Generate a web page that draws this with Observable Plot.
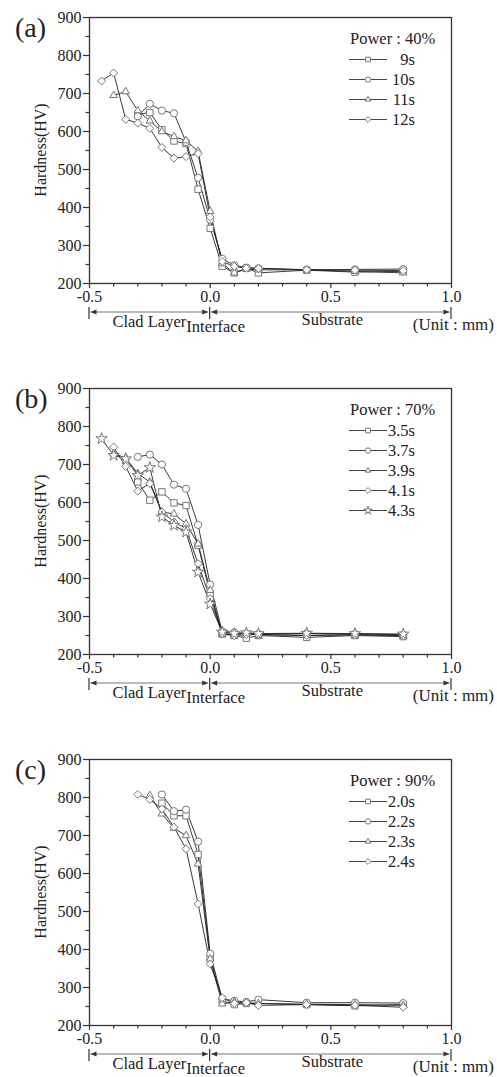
<!DOCTYPE html>
<html>
<head>
<meta charset="utf-8">
<script src="https://cdn.jsdelivr.net/npm/d3@7"></script>
<script src="https://cdn.jsdelivr.net/npm/@observablehq/plot@0.6"></script>
<style>
  html, body { margin: 0; padding: 0; background: #fff; }
  svg { display: block; }
  svg text { font-family: "Liberation Serif", "Times New Roman", serif; }
</style>
</head>
<body>
<div id="chart"></div>
<script>
// ---------- DATA ----------
const depth = [-0.45, -0.40, -0.35, -0.30, -0.25, -0.20, -0.15, -0.10, -0.05, 0, 0.05, 0.10, 0.15, 0.20, 0.40, 0.60, 0.80];

// (a) Power : 40%
const a_names = ["9s", "10s", "11s", "12s"];
const a_9s  = [null, null, null, 645, 650, 605, 575, 568, 448, 345, 245, 228, 240, 228, 235, 230, 232];
const a_10s = [null, null, null, 640, 673, 655, 648, 572, 478, 368, 265, 248, 242, 240, 236, 237, 238];
const a_11s = [null, 695, 705, 655, 628, 600, 587, 576, 548, 390, 252, 228, 238, 236, 236, 232, 228];
const a_12s = [733, 754, 632, 622, 608, 558, 530, 534, 542, 375, 258, 245, 240, 240, 236, 235, 234];

// (b) Power : 70%
const b_names = ["3.5s", "3.7s", "3.9s", "4.1s", "4.3s"];
const b_35s = [null, null, null, 654, 606, 628, 599, 592, 487, 360, 254, 250, 243, 250, 245, 250, 247];
const b_37s = [null, null, null, 720, 726, 700, 647, 636, 541, 384, 261, 258, 255, 254, 255, 254, 252];
const b_39s = [null, 728, 718, 676, 654, 575, 570, 544, 491, 369, 256, 252, 255, 252, 250, 252, 250];
const b_41s = [null, 746, 695, 630, 650, 575, 549, 531, 439, 347, 255, 250, 252, 253, 250, 252, 250];
const b_43s = [768, 724, 715, 671, 692, 562, 540, 522, 417, 333, 259, 255, 257, 255, 256, 255, 254];

// (c) Power : 90%
const c_names = ["2.0s", "2.2s", "2.3s", "2.4s"];
const c_20s = [null, null, null, null, null, 785, 752, 752, 650, 380, 265, 255, 258, 258, 255, 252, 255];
const c_22s = [null, null, null, null, null, 808, 764, 768, 684, 389, 270, 265, 262, 268, 260, 260, 259];
const c_23s = [null, null, null, null, 805, 757, 719, 700, 625, 375, 257, 262, 260, 258, 256, 255, 253];
const c_24s = [null, null, null, 808, 795, 770, 722, 665, 520, 362, 273, 258, 260, 253, 255, 253, 248];

const symbolNames = ["square", "circle", "triangle2", "diamond2", "star"];
const d3Symbols = {square: d3.symbolSquare, circle: d3.symbolCircle, triangle2: d3.symbolTriangle2, diamond2: d3.symbolDiamond2, star: d3.symbolStar};

const yMajor = [200, 300, 400, 500, 600, 700, 800, 900];
const yMinor = [250, 350, 450, 550, 650, 750, 850];
const xMajor = [-0.5, 0, 0.5, 1.0];
const xMinor = [-0.4, -0.3, -0.2, -0.1, 0.1, 0.2, 0.3, 0.4, 0.6, 0.7, 0.8, 0.9];

// ---------- RENDER ----------
const FONT = '"Liberation Serif", "Times New Roman", serif';
const INK = "#222";

function panel(tag, power, names, series, height, marginBottom) {
  const marginTop = 17, marginLeft = 89, marginRight = 46;
  const rows = [];
  series.forEach((vals, i) => vals.forEach((v, j) => { if (v != null) rows.push({s: names[i], i, x: depth[j], y: v}); }));
  const marks = [
    Plot.frame({stroke: "#333", strokeWidth: 1.3}),
    Plot.axisY(yMajor, {tickSize: 6, tickPadding: 2, fontSize: 16, label: null, stroke: "#333", strokeWidth: 1.2}),
    Plot.axisY(yMinor, {tickSize: 3.5, tickFormat: () => "", label: null, stroke: "#333", strokeWidth: 1.2}),
    Plot.axisX(xMajor, {tickSize: 5, tickPadding: 2, fontSize: 16, label: null, tickFormat: v => v.toFixed(1), stroke: "#333", strokeWidth: 1.2}),
    Plot.axisX(xMinor, {tickSize: 3.5, tickFormat: () => "", label: null, stroke: "#333", strokeWidth: 1.2})
  ];
  names.forEach((n, i) => {
    const d = rows.filter(r => r.i === i);
    marks.push(Plot.line(d, {x: "x", y: "y", stroke: INK, strokeWidth: 0.9}));
  });
  names.forEach((n, i) => {
    const d = rows.filter(r => r.i === i);
    marks.push(Plot.dot(d, {x: "x", y: "y", symbol: symbolNames[i], r: 3.6, fill: "white", stroke: "#777", strokeWidth: 1}));
  });
  const plot = Plot.plot({
    width: 497, height, marginTop, marginLeft, marginRight, marginBottom,
    x: {domain: [-0.5, 1.0]},
    y: {domain: [200, 900]},
    style: {fontFamily: FONT, fontSize: "16px", color: INK, background: "white", overflow: "visible"},
    marks
  });
  const svg = d3.select(plot);
  const xs = plot.scale("x");
  const X = v => xs.apply(v);
  const frameBottom = height - marginBottom;
  const frameMidY = (marginTop + frameBottom) / 2;
  const g = svg.append("g").attr("fill", INK).attr("text-anchor", "start");

  // panel tag
  g.append("text").attr("x", 15).attr("y", marginTop + 20).attr("text-anchor", "start").attr("font-size", 28).text(tag);
  // y title
  g.append("text").attr("transform", `translate(40,${frameMidY}) rotate(-90)`)
    .attr("text-anchor", "middle").attr("dominant-baseline", "central").attr("font-size", 16).text("Hardness(HV)");

  // legend
  const lx0 = 349, lx1 = 387, lt = 415;
  g.append("text").attr("x", 350).attr("y", marginTop + 27).attr("text-anchor", "start").attr("font-size", 16.5).text(`Power : ${power}%`);
  names.forEach((n, i) => {
    const yy = marginTop + 42.5 + 20 * i;
    g.append("line").attr("x1", lx0).attr("x2", lx1).attr("y1", yy).attr("y2", yy).attr("stroke", "#444").attr("stroke-width", 1);
    g.append("path").attr("d", d3.symbol(d3Symbols[symbolNames[i]], 22)())
      .attr("transform", `translate(${(lx0 + lx1) / 2},${yy})`).attr("fill", "white").attr("stroke", "#666").attr("stroke-width", 0.9);
    g.append("text").attr("x", lt).attr("y", yy + 5.5).attr("text-anchor", "end").attr("font-size", 16.5).text(n);
  });

  // bracket annotation
  const by = frameBottom + 29;
  const br = svg.append("g").attr("stroke", "#333").attr("fill", "#333").attr("stroke-width", 1);
  [[-0.5, 0], [0, 1.0]].forEach(([a, b]) => {
    const xa = X(a) + 1.5, xb = X(b) - 1.5;
    br.append("line").attr("x1", xa).attr("x2", xb).attr("y1", by).attr("y2", by).attr("stroke", "#777");
    br.append("path").attr("d", `M${xa},${by}L${xa + 6},${by - 2.5}L${xa + 6},${by + 2.5}Z`).attr("stroke", "none");
    br.append("path").attr("d", `M${xb},${by}L${xb - 6},${by - 2.5}L${xb - 6},${by + 2.5}Z`).attr("stroke", "none");
  });
  [-0.5, 0, 1.0].forEach(v => {
    br.append("line").attr("x1", X(v)).attr("x2", X(v)).attr("y1", by - 5).attr("y2", by + 7).attr("stroke-width", 1.2);
  });
  g.append("text").attr("x", X(-0.25)).attr("y", frameBottom + 44).attr("text-anchor", "middle").attr("font-size", 16.5).text("Clad Layer");
  g.append("text").attr("x", X(0) + 6).attr("y", frameBottom + 49).attr("text-anchor", "middle").attr("font-size", 16.5).text("Interface");
  g.append("text").attr("x", X(0.5) + 2).attr("y", frameBottom + 42).attr("text-anchor", "middle").attr("font-size", 16.5).text("Substrate");
  g.append("text").attr("x", 494).attr("y", frameBottom + 47).attr("text-anchor", "end").attr("font-size", 17).text("(Unit : mm)");
  return plot;
}

const root = document.getElementById("chart");
root.appendChild(panel("(a)", 40, a_names, [a_9s, a_10s, a_11s, a_12s], 371, 88));
root.appendChild(panel("(b)", 70, b_names, [b_35s, b_37s, b_39s, b_41s, b_43s], 371, 88));
root.appendChild(panel("(c)", 90, c_names, [c_20s, c_22s, c_23s, c_24s], 335, 52));
</script>
</body>
</html>
